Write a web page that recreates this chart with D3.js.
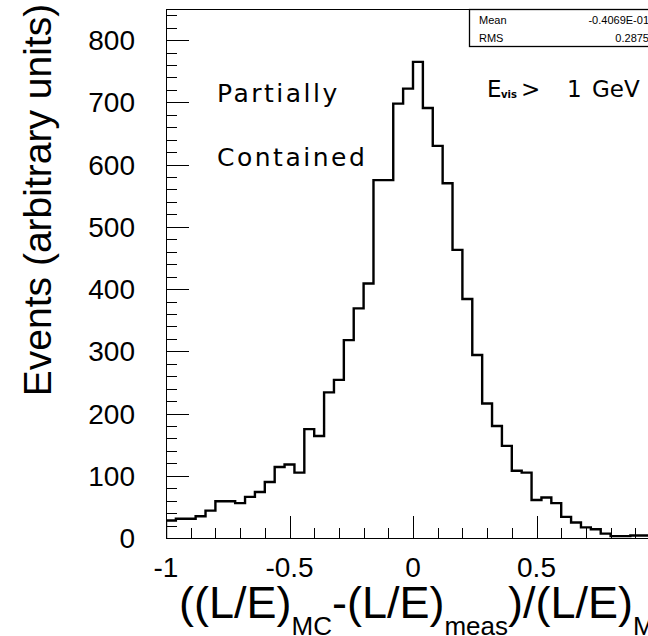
<!DOCTYPE html>
<html>
<head>
<meta charset="utf-8">
<script src="https://cdn.jsdelivr.net/npm/d3@7"></script>
<style>
  body { margin: 0; background: #fff; }
  svg { display: block; }
</style>
</head>
<body>
<svg id="chart" width="648" height="636"></svg>
<script>
// bin edges: 50 bins of 0.04 from -1 to 1
const binLow = -1, binHigh = 1, nBins = 50;
const counts = [
    28, 31, 31, 35, 44, 59, 59, 56, 66, 74,
    90, 114, 118, 105, 175, 164, 234, 254, 318, 369,
    409, 575, 575, 698, 722, 765, 691, 630, 570, 463,
    384, 294, 216, 180, 148, 108, 105, 61, 65, 56,
    34, 25, 17, 14, 7, 3, 3, 4, 4, 4
];
const xTicks = [-1, -0.5, 0, 0.5, 1];
const xTickLabels = ['-1', '-0.5', '0', '0.5', '1'];
const yTicks = [0, 100, 200, 300, 400, 500, 600, 700, 800];
const statNames = ['Mean', 'RMS'];
const statValues = ['-0.4069E-01', '0.2875'];

const svg = d3.select('#chart');
const padL = 166, padR = 660, padT = 9, padB = 538;
const arial = 'Liberation Sans, Arial, sans-serif';

const x = d3.scaleLinear().domain([binLow, binHigh]).range([padL, padR]);
const y = d3.scaleLinear().domain([0, 850]).range([padB, padT]);
const binW = (binHigh - binLow) / nBins;

svg.append('defs').append('clipPath').attr('id', 'frame')
    .append('rect').attr('x', padL).attr('y', padT)
    .attr('width', padR - padL).attr('height', padB - padT);

// frame
svg.append('rect')
    .attr('x', padL + 0.5).attr('y', padT + 0.5)
    .attr('width', padR - padL).attr('height', padB - padT)
    .attr('fill', 'none').attr('stroke', '#000').attr('stroke-width', 1);

// histogram outline
let d = `M${x(binLow)},${y(0)}`;
counts.forEach((c, i) => {
    d += `V${y(c)}H${x(binLow + (i + 1) * binW)}`;
});
d += `V${y(0)}`;
svg.append('path')
    .attr('d', d)
    .attr('clip-path', 'url(#frame)')
    .attr('fill', 'none')
    .attr('stroke', '#000')
    .attr('stroke-width', 2.4);

// y ticks, drawn inward
const yMinor = d3.range(0, 850, 20);
svg.append('g').selectAll('line').data(yMinor).enter().append('line')
    .attr('x1', padL).attr('x2', d => padL + (d % 100 === 0 ? 23 : 11))
    .attr('y1', d => Math.round(y(d)) + 0.5).attr('y2', d => Math.round(y(d)) + 0.5)
    .attr('stroke', '#000').attr('stroke-width', 1);

svg.append('g').selectAll('text').data(yTicks).enter().append('text')
    .attr('x', 135).attr('y', d => y(d) + 10)
    .attr('text-anchor', 'end')
    .style('font-family', arial)
    .style('font-size', '28px')
    .text(d => d);

// x ticks, drawn upward
const xMinor = d3.range(0, 21).map(i => -1 + i * 0.1);
svg.append('g').selectAll('line').data(xMinor).enter().append('line')
    .attr('x1', d => Math.round(x(d)) + 0.5).attr('x2', d => Math.round(x(d)) + 0.5)
    .attr('y1', padB).attr('y2', (d, i) => padB - (i % 5 === 0 ? 22 : 10))
    .attr('stroke', '#000').attr('stroke-width', 1);

svg.append('g').selectAll('text').data(xTicks).enter().append('text')
    .attr('x', d => x(d)).attr('y', 577)
    .attr('text-anchor', 'middle')
    .style('font-family', arial)
    .style('font-size', '28px')
    .text((d, i) => xTickLabels[i]);

// axis titles
svg.append('text')
    .attr('transform', 'translate(51,200) rotate(-90)')
    .attr('text-anchor', 'middle')
    .style('font-family', arial)
    .style('font-size', '39px')
    .text('Events (arbitrary units)');

const xt = svg.append('text')
    .attr('x', 179).attr('y', 618)
    .style('font-family', arial)
    .style('font-size', '45px');
xt.append('tspan').text('((L/E)');
xt.append('tspan').attr('dy', 17).style('font-size', '26px').text('MC');
xt.append('tspan').attr('dy', -17).text('-(L/E)');
xt.append('tspan').attr('dy', 17).style('font-size', '26px').text('meas');
xt.append('tspan').attr('dy', -17).text(')/(L/E)');
xt.append('tspan').attr('dy', 17).style('font-size', '26px').text('MC');

// labels inside the plot
const labelFont = 'DejaVu Sans, sans-serif';
svg.append('text').attr('x', 217).attr('y', 102)
    .style('font-family', labelFont).style('font-size', '25px')
    .style('letter-spacing', '2.5px')
    .text('Partially');
svg.append('text').attr('x', 217).attr('y', 166)
    .style('font-family', labelFont).style('font-size', '25px')
    .style('letter-spacing', '2.5px')
    .text('Contained');

const ev = svg.append('text').attr('y', 97)
    .style('font-family', labelFont).style('font-size', '23px');
ev.append('tspan').attr('x', 487).text('E');
ev.append('tspan').attr('x', 501).attr('dy', 1)
    .style('font-size', '10px').style('font-weight', 'bold').text('vis');
ev.append('tspan').attr('x', 521).attr('dy', -1).text('>');
ev.append('tspan').attr('x', 567).text('1');
ev.append('tspan').attr('x', 592).text('GeV');

// stats box
svg.append('rect')
    .attr('x', 469.5).attr('y', 9.5).attr('width', 200).attr('height', 37)
    .attr('fill', '#fff').attr('stroke', '#000').attr('stroke-width', 1.3);
statNames.forEach((n, i) => {
    svg.append('text').attr('x', 479).attr('y', 23.5 + i * 18.5)
        .style('font-family', arial)
        .style('font-size', '11px').text(n);
    svg.append('text').attr('x', 649).attr('y', 23.5 + i * 18.5)
        .attr('text-anchor', 'end')
        .style('font-family', arial)
        .style('font-size', '11px').text(statValues[i]);
});
</script>
</body>
</html>
